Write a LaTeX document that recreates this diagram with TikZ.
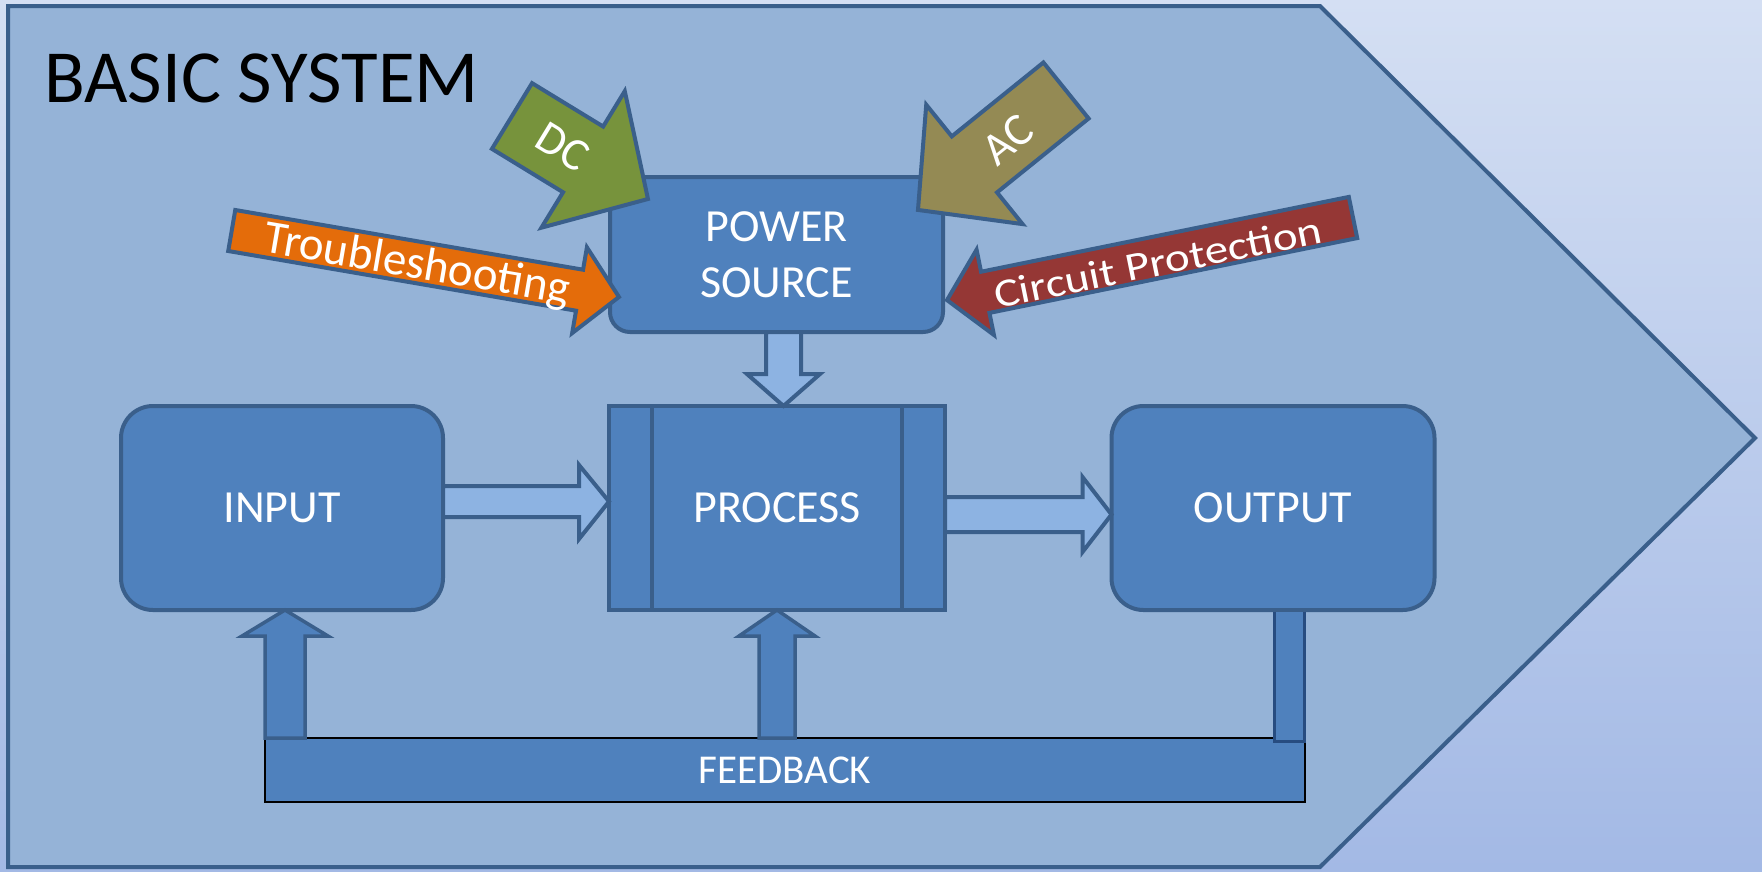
\documentclass[tikz,border=0pt]{standalone}
\usepackage{fontspec}
\setmainfont{Carlito}
\usetikzlibrary{calc}

\definecolor{bgtop}{HTML}{D4DFF3}
\definecolor{bgbottom}{HTML}{A3B9E5}
\definecolor{panelfill}{HTML}{95B3D7}
\definecolor{boxline}{HTML}{3A5F8B}
\definecolor{boxfill}{HTML}{4F81BD}
\definecolor{flowfill}{HTML}{8DB3E2}
\definecolor{barline}{HTML}{274C80}
\definecolor{dcgreen}{HTML}{77933C}
\definecolor{acolive}{HTML}{948A54}
\definecolor{tsorange}{HTML}{E46C0A}
\definecolor{cpred}{HTML}{953735}

% block arrow: fill, tail centre, angle, length, shaft half width, head half width, head length
\newcommand\blockarrowshape[7]{%
  \begin{scope}[shift={#2},rotate=#3]
    \draw[edge,fill=#1] (0,-#5) -- ({#4-#7},-#5) -- ({#4-#7},-#6) -- (#4,0)
      -- ({#4-#7},#6) -- ({#4-#7},#5) -- (0,#5) -- cycle;
  \end{scope}}

\begin{document}
\begin{tikzpicture}[x=1pt,y=-1pt,
  edge/.style={draw=boxline,line width=4pt,line join=miter},
  block/.style={edge,fill=boxfill,inner sep=0pt,outer sep=0pt,text=white,
    font=\fontsize{46}{56}\selectfont,align=center},
  flow/.style={edge,fill=flowfill},
  backflow/.style={edge,line width=3.5pt,fill=boxfill},
  lbl/.style={text=white,inner sep=0pt},
]
\useasboundingbox (0,0) rectangle (1762,871);

% backdrop and the system chevron
\fill[top color=bgtop,bottom color=bgbottom] (0,0) rectangle (1762,871);
\draw[edge,fill=panelfill] (8,6) -- (1320,6) -- (1755,438) -- (1320,867) -- (8,867) -- cycle;

\node[anchor=base west,inner sep=0pt,font=\fontsize{75}{90}\selectfont] (title) at (44,102) {BASIC SYSTEM};

% main blocks
\node[block,rounded corners=20pt,minimum width=333pt,minimum height=155pt] (power) at (776.5,254.5) {POWER\\SOURCE};
\node[block,minimum width=336pt,minimum height=204pt] (process) at (777,508) {PROCESS};
\draw[edge] ($(process.north west)+(43,0)$) -- ($(process.south west)+(43,0)$);
\draw[edge] ($(process.north east)+(-43,0)$) -- ($(process.south east)+(-43,0)$);
\node[block,rounded corners=32pt,minimum width=322pt,minimum height=204pt] (input) at (282,508) {INPUT};
\node[block,rounded corners=32pt,minimum width=323pt,minimum height=204pt] (output) at (1273,508) {OUTPUT};

% forward flow
\draw[flow] let \p1=(input.east), \p2=(process.west) in
  (\x1,\y1+22pt) -- (\x2-30pt,\y1+22pt) -- (\x2-30pt,\y1+43pt) -- (\x2,\y1+6.5pt)
  -- (\x2-30pt,\y1-31pt) -- (\x2-30pt,\y1-9pt) -- (\x1,\y1-9pt) -- cycle;
\draw[flow] let \p1=(process.east), \p2=(output.west) in
  (\x1,\y1+11pt) -- (\x2-29pt,\y1+11pt) -- (\x2-29pt,\y1+31pt) -- (\x2,\y1-6.5pt)
  -- (\x2-29pt,\y1-44pt) -- (\x2-29pt,\y1-24pt) -- (\x1,\y1-24pt) -- cycle;
\draw[flow] let \p1=(power.south), \p2=(process.north) in
  (\x1-10.5pt,\y1) -- (\x1-10.5pt,\y2+32pt) -- (\x1-29.5pt,\y2+32pt) -- (\x1+7pt,\y2)
  -- (\x1+43.5pt,\y2+32pt) -- (\x1+24.5pt,\y2+32pt) -- (\x1+24.5pt,\y1) -- cycle;

% feedback bar and return paths
\node[draw=black,line width=2pt,fill=boxfill,inner sep=0pt,outer sep=0pt,
  minimum width=1040pt,minimum height=64pt,text=white,
  font=\fontsize{41}{50}\selectfont] (fb) at (785,770) {FEEDBACK};
\draw[backflow] let \p1=(input.south), \p2=(fb.north) in
  (\x1-17pt,\y2) -- (\x1-17pt,\y1-26pt) -- (\x1-40pt,\y1-26pt) -- (\x1+3pt,\y1)
  -- (\x1+46pt,\y1-26pt) -- (\x1+23pt,\y1-26pt) -- (\x1+23pt,\y2) -- cycle;
\draw[backflow] let \p1=(process.south), \p2=(fb.north) in
  (\x1-18pt,\y2) -- (\x1-18pt,\y1-26pt) -- (\x1-38pt,\y1-26pt) -- (\x1,\y1)
  -- (\x1+38pt,\y1-26pt) -- (\x1+18pt,\y1-26pt) -- (\x1+18pt,\y2) -- cycle;
\fill[boxfill] let \p1=(output.south), \p2=(fb.north) in
  (\x1+1pt,\y1-2pt) rectangle (\x1+31pt,\y2-3pt);
\draw[draw=barline,line width=3pt] let \p1=(output.south), \p2=(fb.north) in
  (\x1+1pt,\y1-2pt) -- (\x1+1pt,\y2-3pt) -- (\x1+31pt,\y2-3pt) -- (\x1+31pt,\y1-2pt);

% inputs to the power source
\blockarrowshape{dcgreen}{(512,116)}{-31.4}{159.3}{38.5}{80}{76}
\blockarrowshape{acolive}{(1066,90.5)}{-141.1}{190.2}{36}{76.7}{72.5}
\blockarrowshape{tsorange}{(231.75,230.5)}{-9.74}{392.9}{20.8}{43.5}{40}
\blockarrowshape{cpred}{(1353,217.5)}{-168.5}{414.3}{21}{43.5}{39}

\node[lbl,rotate=-31.4,font=\fontsize{46}{54}\selectfont] (dc) at (563,147) {DC};
\node[lbl,rotate=38.9,font=\fontsize{46}{54}\selectfont] (ac) at (1008,140) {AC};
\node[lbl,rotate=-9.74,font=\fontsize{47}{56}\selectfont] (ts) at (417,266) {Troubleshooting};
\node[lbl,rotate=11.5,xscale=1.18,font=\fontsize{40}{48}\selectfont] (cp) at (1158,262) {Circuit Protection};
\end{tikzpicture}
\end{document}
